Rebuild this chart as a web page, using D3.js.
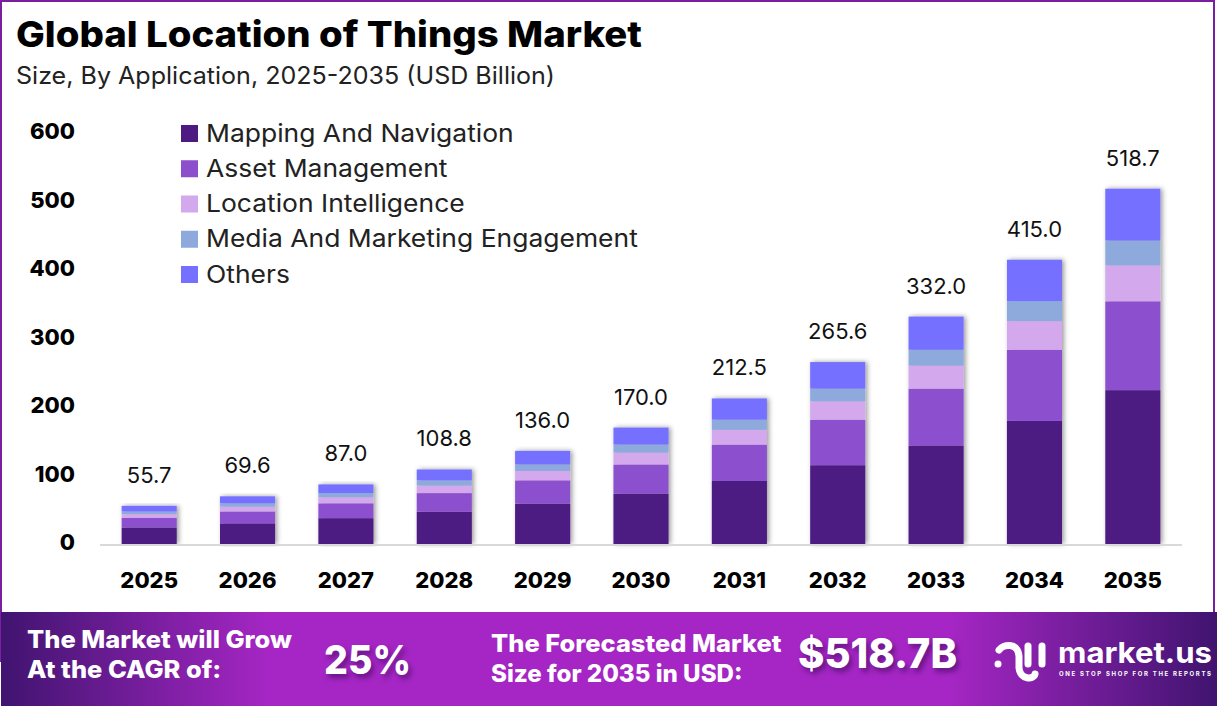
<!DOCTYPE html>
<html>
<head>
  <title>Global Location of Things Market</title>
  <meta charset="utf-8">
  <style>
    html, body{
      margin:0;
      padding:0;
      border:0;
      background:#fff;
    }
    svg{ display:block; }
    text{ font-family:Inter, "Noto Sans", sans-serif; }
    .axis path{ display:none; }
    .axis line{ display:none; }
    .shadowed{ text-shadow:3px 4px 5px rgba(50,10,80,.55); }
  </style>
</head>
<body>
  <div id="chart"></div>
  <script src="https://d3js.org/d3.v7.min.js"></script>
  <script type="text/javascript">

    var years = ['2025','2026','2027','2028','2029','2030','2031','2032','2033','2034','2035'];
    var seriesNames = ['Mapping And Navigation','Asset Management','Location Intelligence','Media And Marketing Engagement','Others'];
    var seriesColors = ['#4e1a82','#8c50cd','#d3a8ec','#8eaadc','#7570ff'];
    var mapping = [24.1,30.1,37.7,47.1,58.9,73.6,92.0,115.0,143.8,179.7,224.6];
    var asset = [13.9,17.4,21.7,27.2,34.0,42.5,53.1,66.4,83.0,103.8,129.7];
    var locationIntel = [5.6,7.0,8.8,11.0,13.7,17.2,21.5,26.8,33.5,41.9,52.4];
    var media = [3.9,4.9,6.1,7.6,9.5,11.9,14.9,18.6,23.2,29.1,36.3];
    var others = [8.2,10.2,12.7,15.9,19.9,24.8,31.0,38.8,48.5,60.5,75.7];
    var totals = [55.7,69.6,87.0,108.8,136.0,170.0,212.5,265.6,332.0,415.0,518.7];
    var yTicks = [0,100,200,300,400,500,600];

    var width = 1217, height = 706;
    var svg = d3.select('#chart').append('svg').attr('width', width).attr('height', height);
    var defs = svg.append('defs');

    var grad = defs.append('linearGradient').attr('id', 'bannerFill');
    grad.append('stop').attr('offset', '0%').attr('stop-color', '#40146f');
    grad.append('stop').attr('offset', '22%').attr('stop-color', '#a526c4');
    grad.append('stop').attr('offset', '78%').attr('stop-color', '#a526c4');
    grad.append('stop').attr('offset', '100%').attr('stop-color', '#40146f');

    var shadow = defs.append('filter').attr('id', 'barShadow')
      .attr('x', '-20%').attr('y', '-5%').attr('width', '140%').attr('height', '110%');
    shadow.append('feDropShadow').attr('dx', 2).attr('dy', 0).attr('stdDeviation', 2.5)
      .attr('flood-color', '#000').attr('flood-opacity', 0.4);

    //Inter is narrower than the face in the picture, so stretch a text by a factor
    function widen(sel, k){
      sel.each(function(d){
        d3.select(this).attr('textLength', this.getComputedTextLength() * (d.k || k))
          .attr('lengthAdjust', 'spacingAndGlyphs');
      });
    }

    // frame
    svg.append('rect').attr('x', 1).attr('y', 1).attr('width', 1213).attr('height', 660)
      .attr('fill', 'none').attr('stroke', '#7b1fa2').attr('stroke-width', 2);

    var x = d3.scaleBand().domain(years).range([100, 1182]).paddingInner(0.44).paddingOuter(0.22);
    var y = d3.scaleLinear().domain([0, 600]).range([544, 133]);

    // titles
    svg.append('text').attr('x', 16).attr('y', 47).attr('font-size', 35.5).attr('font-weight', 800)
      .attr('fill', '#000').attr('textLength', 626).attr('lengthAdjust', 'spacingAndGlyphs')
      .text('Global Location of Things Market');
    svg.append('text').attr('x', 16).attr('y', 84).attr('font-size', 24).attr('fill', '#222')
      .attr('textLength', 539).attr('lengthAdjust', 'spacingAndGlyphs')
      .text('Size, By Application, 2025-2035 (USD Billion)');

    // stacked bars
    var rows = years.map(function(yr, i){
      return {year: yr, 0: mapping[i], 1: asset[i], 2: locationIntel[i], 3: media[i], 4: others[i]};
    });
    var stack = d3.stack().keys([0,1,2,3,4])(rows);

    var barGroups = svg.append('g').selectAll('g').data(years).enter().append('g')
      .attr('filter', 'url(#barShadow)');
    barGroups.selectAll('rect')
      .data(function(yr, i){
        return stack.map(function(s){ return {year: yr, k: s.key, y0: s[i][0], y1: s[i][1]}; });
      })
      .enter().append('rect')
      .attr('x', function(d){ return x(d.year); })
      .attr('width', x.bandwidth())
      .attr('y', function(d){ return y(d.y1); })
      .attr('height', function(d){ return y(d.y0) - y(d.y1); })
      .attr('fill', function(d){ return seriesColors[d.k]; });

    // baseline
    svg.append('line').attr('x1', 100).attr('x2', 1182).attr('y1', 545).attr('y2', 545)
      .attr('stroke', '#d9d9d9').attr('stroke-width', 2);

    // axes
    var yAxis = svg.append('g').attr('class', 'axis').attr('transform', 'translate(75,-1)')
      .call(d3.axisLeft(y).tickValues(yTicks).tickSize(0).tickPadding(0));
    yAxis.selectAll('text').attr('font-size', 22).attr('font-weight', 800).attr('fill', '#000')
      .attr('dy', '0.3em').style('font-family', 'Inter');

    var xAxis = svg.append('g').attr('class', 'axis').attr('transform', 'translate(0,572)')
      .call(d3.axisBottom(x).tickSize(0).tickPadding(0));
    xAxis.selectAll('text').attr('font-size', 22).attr('font-weight', 800).attr('fill', '#000')
      .attr('dy', '0.72em').style('font-family', 'Inter');

    // total labels
    svg.append('g').selectAll('text').data(years).enter().append('text')
      .attr('x', function(d){ return x(d) + x.bandwidth() / 2; })
      .attr('y', function(d, i){ return y(totals[i]) - 23; })
      .attr('text-anchor', 'middle').attr('font-size', 22).attr('fill', '#111')
      .text(function(d, i){ return totals[i].toFixed(1); });

    // legend
    var legendY = d3.scalePoint().domain(seriesNames).range([133, 274]);
    var legend = svg.append('g').selectAll('g').data(seriesNames).enter().append('g')
      .attr('transform', function(d){ return 'translate(181,' + legendY(d) + ')'; });
    legend.append('rect').attr('x', 0).attr('y', -8).attr('width', 17).attr('height', 17)
      .attr('fill', function(d, i){ return seriesColors[i]; });
    legend.append('text').attr('x', 25).attr('y', 8.5).attr('font-size', 24.5).attr('fill', '#222')
      .text(function(d){ return d; })
      .call(widen, 1.08);

    // banner
    svg.append('rect').attr('x', 1).attr('y', 612).attr('width', width - 1).attr('height', 94)
      .attr('fill', 'url(#bannerFill)');

    var bannerText = [
      {t: 'The Market will Grow', x: 27, y: 648},
      {t: 'At the CAGR of:', x: 27, y: 678},
      {t: 'The Forecasted Market', x: 491, y: 652},
      {t: 'Size for 2035 in USD:', x: 491, y: 682, k: 1.005}
    ];
    svg.append('g').selectAll('text').data(bannerText).enter().append('text')
      .attr('x', function(d){ return d.x; }).attr('y', function(d){ return d.y; })
      .attr('font-size', 24).attr('font-weight', 800)
      .attr('fill', '#fff').text(function(d){ return d.t; })
      .call(widen, 1.06);

    svg.append('text').attr('class', 'shadowed').attr('x', 324).attr('y', 674).attr('font-size', 40)
      .attr('font-weight', 800).attr('fill', '#fff').attr('textLength', 87)
      .attr('lengthAdjust', 'spacingAndGlyphs').text('25%');
    svg.append('text').attr('class', 'shadowed').attr('x', 798).attr('y', 668).attr('font-size', 41)
      .attr('font-weight', 800).attr('fill', '#fff').attr('textLength', 159)
      .attr('lengthAdjust', 'spacingAndGlyphs').text('$518.7B');

    // logo
    var logo = svg.append('g').attr('fill', 'none').attr('stroke', '#fff')
      .attr('stroke-width', 7).attr('stroke-linecap', 'round');
    logo.append('path').attr('d', 'M999 650C1003 644 1018 642 1019 656V668C1020 680 1034 680 1035 674');
    logo.append('path').attr('d', 'M1028 646V664');
    logo.append('path').attr('d', 'M1042 646V664');
    svg.append('circle').attr('cx', 998).attr('cy', 664).attr('r', 3.5).attr('fill', '#fff');
    svg.append('text').attr('x', 1058).attr('y', 663).attr('font-size', 29).attr('font-weight', 700)
      .attr('fill', '#fff').attr('textLength', 154).attr('lengthAdjust', 'spacingAndGlyphs')
      .text('market.us');
    svg.append('text').attr('x', 1059).attr('y', 676).attr('font-size', 6).attr('font-weight', 700)
      .attr('fill', '#fff').attr('textLength', 152).text('ONE STOP SHOP FOR THE REPORTS');

  </script>
</body>
</html>
